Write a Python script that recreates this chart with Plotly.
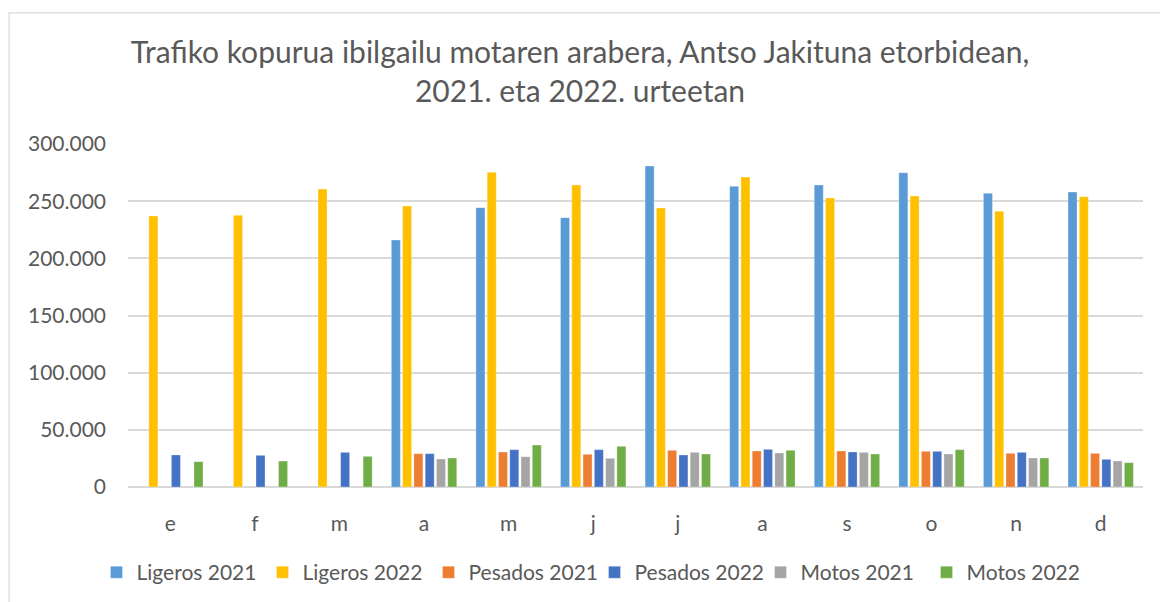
import plotly.graph_objects as go

months = ["e", "f", "m", "a", "m", "j", "j", "a", "s", "o", "n", "d"]
month_ids = [f"{i}" for i in range(12)]

ligeros_2021 = [None, None, None, 216000, 244300, 235600, 280800, 263000, 264100, 274900, 256900, 258000]
ligeros_2022 = [237000, 237600, 260600, 245800, 275200, 264100, 244000, 271100, 252800, 254500, 241100, 253900]
pesados_2021 = [None, None, None, 29150, 30600, 28600, 32070, 31500, 31500, 31200, 29450, 29450]
pesados_2022 = [28000, 27700, 30300, 29150, 32650, 32650, 28000, 32940, 30600, 31200, 30300, 24200]
motos_2021 = [None, None, None, 24500, 26500, 25070, 30300, 29740, 30300, 28860, 25360, 22740]
motos_2022 = [22150, 22700, 26800, 25360, 36700, 35570, 28860, 32070, 28860, 32650, 25360, 21280]

series = [
    ("Ligeros 2021", ligeros_2021, "#5B9BD5"),
    ("Ligeros 2022", ligeros_2022, "#FFC000"),
    ("Pesados 2021", pesados_2021, "#ED7D31"),
    ("Pesados 2022", pesados_2022, "#4472C4"),
    ("Motos 2021", motos_2021, "#A5A5A5"),
    ("Motos 2022", motos_2022, "#70AD47"),
]

title_text = "Trafiko kopurua ibilgailu motaren arabera, Antso Jakituna etorbidean,<br>2021. eta 2022. urteetan"
y_ticks = [0, 50000, 100000, 150000, 200000, 250000, 300000]

FONT = "Lato"
TXT = "#595959"

fig = go.Figure()
for name, vals, color in series:
    fig.add_trace(go.Bar(
        x=month_ids, y=vals, name=name,
        marker=dict(color=color, line=dict(color="rgba(255,255,255,0.5)", width=0.6)),
    ))

fig.update_layout(
    width=1160, height=602,
    barmode="group", bargap=0.2, bargroupgap=0.2,
    paper_bgcolor="white", plot_bgcolor="white",
    separators=",.",
    margin=dict(l=128, r=17, t=144, b=115, autoexpand=False),
    title=dict(text=title_text, x=0.5, xanchor="center", y=0.895, yanchor="top",
               font=dict(family=FONT, size=30, color=TXT)),
    font=dict(family=FONT, color=TXT, size=20),
    xaxis=dict(
        tickmode="array", tickvals=month_ids, ticktext=months,
        showgrid=False, showline=False, zeroline=False, ticks="",
        tickfont=dict(size=21, color=TXT), ticklabelstandoff=22,
    ),
    yaxis=dict(
        range=[0, 300000], tickvals=y_ticks, tickformat=",d",
        showgrid=True, gridcolor="#D9D9D9", gridwidth=1.5,
        zeroline=True, zerolinecolor="#D9D9D9", zerolinewidth=1.5,
        showline=False, ticks="", tickfont=dict(size=21, color=TXT),
        ticklabelstandoff=21,
    ),
    legend=dict(orientation="h", xref="container", yref="container",
                x=0.5125, xanchor="center", y=0.083, yanchor="top",
                font=dict(size=21, color=TXT), itemwidth=30, traceorder="normal",
                entrywidth=121, entrywidthmode="pixels"),
    showlegend=True,
)

fig.add_shape(type="rect", xref="paper", yref="paper",
              x0=-0.1172, x1=1.03, y0=-0.4, y1=1.382,
              line=dict(color="#D9D9D9", width=1.2), fillcolor="rgba(0,0,0,0)", layer="below")

fig.write_html("out.html", config={"displayModeBar": False},
               post_script="document.body.style.margin='0';document.body.style.overflow='hidden';")
